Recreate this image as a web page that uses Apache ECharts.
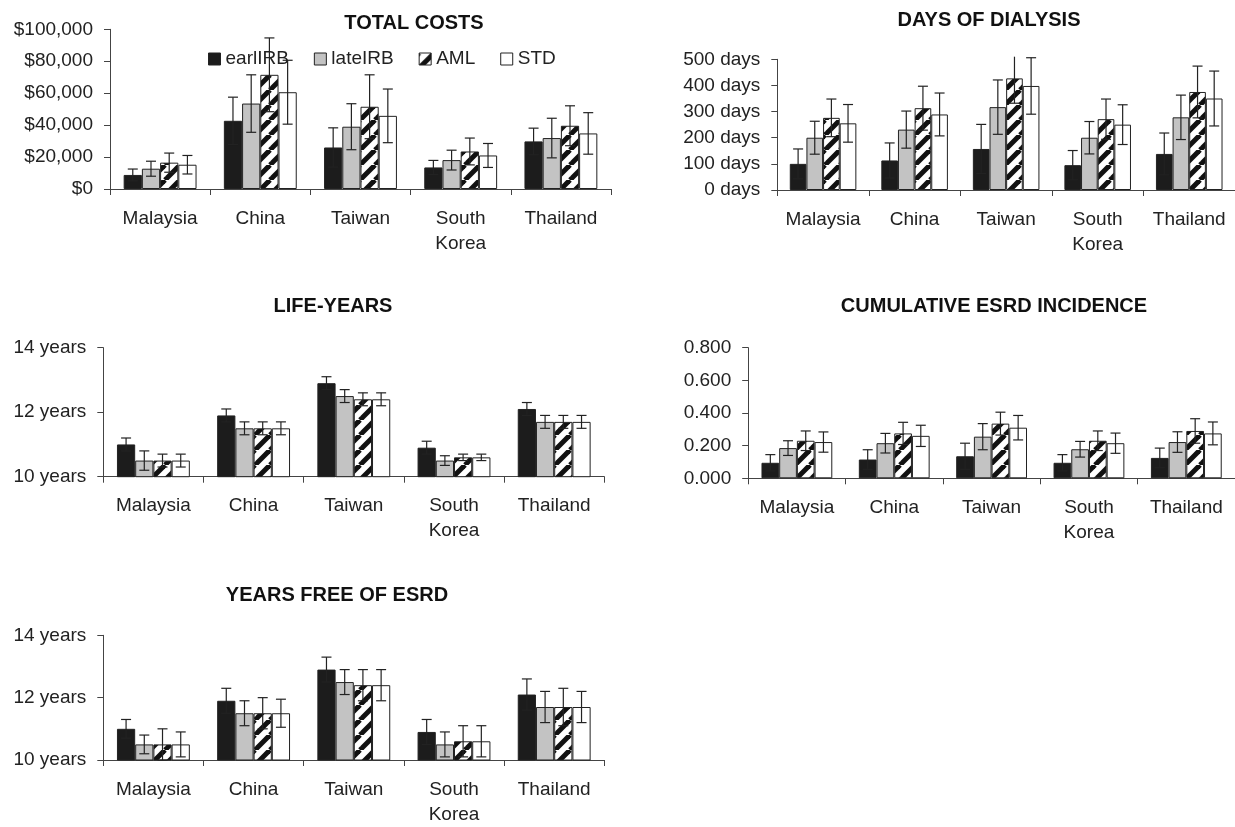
<!DOCTYPE html>
<html><head><meta charset="utf-8">
<script src="https://cdn.jsdelivr.net/npm/echarts@6/dist/echarts.min.js"></script>
<style>html,body{margin:0;padding:0;background:#fff}#c{width:1235px;height:827px}</style>
</head><body><div id="c"></div>
<script>
// ---------- DATA ----------
const categories = ['Malaysia', 'China', 'Taiwan', 'South\nKorea', 'Thailand'];
const seriesNames = ['earlIRB', 'lateIRB', 'AML', 'STD'];

// Total costs ($)
const costEarl = [8800, 42700, 26000, 13500, 29800];
const costEarlErr = [3700, 14800, 12300, 4400, 8300];
const costLate = [12700, 53500, 39000, 18100, 31900];
const costLateErr = [4700, 18000, 14400, 6200, 12400];
const costAml = [16500, 71500, 51500, 23500, 39600];
const costAmlErr = [6000, 23100, 20000, 8400, 12500];
const costStd = [15200, 60600, 45800, 21000, 34800];
const costStdErr = [5800, 20000, 16800, 7500, 13000];
const costTicks = [0, 20000, 40000, 60000, 80000, 100000];

// Days of dialysis
const daysEarl = [100, 113, 157, 95, 138];
const daysEarlErr = [57, 67, 94, 56, 80];
const daysLate = [200, 231, 317, 200, 278];
const daysLateErr = [63, 71, 104, 62, 85];
const daysAml = [276, 313, 427, 271, 375];
const daysAmlErr = [72, 84, 95, 77, 99];
const daysStd = [255, 289, 398, 250, 350];
const daysStdErr = [72, 82, 108, 76, 105];
const daysTicks = [0, 100, 200, 300, 400, 500];

// Life-years
const lifeEarl = [11.0, 11.9, 12.9, 10.9, 12.1];
const lifeEarlErr = [0.2, 0.2, 0.2, 0.2, 0.2];
const lifeLate = [10.5, 11.5, 12.5, 10.5, 11.7];
const lifeLateErr = [0.3, 0.2, 0.2, 0.15, 0.2];
const lifeAml = [10.5, 11.5, 12.4, 10.6, 11.7];
const lifeAmlErr = [0.2, 0.2, 0.2, 0.1, 0.2];
const lifeStd = [10.5, 11.5, 12.4, 10.6, 11.7];
const lifeStdErr = [0.2, 0.2, 0.2, 0.1, 0.2];
const yearTicks = [10, 12, 14];

// Cumulative ESRD incidence
const esrdEarl = [0.095, 0.115, 0.135, 0.095, 0.125];
const esrdEarlErr = [0.05, 0.06, 0.08, 0.05, 0.06];
const esrdLate = [0.185, 0.215, 0.255, 0.178, 0.222];
const esrdLateErr = [0.045, 0.06, 0.08, 0.048, 0.063];
const esrdAml = [0.23, 0.275, 0.335, 0.23, 0.29];
const esrdAmlErr = [0.06, 0.068, 0.07, 0.06, 0.075];
const esrdStd = [0.222, 0.26, 0.31, 0.215, 0.275];
const esrdStdErr = [0.062, 0.065, 0.075, 0.062, 0.07];
const esrdTicks = [0, 0.2, 0.4, 0.6, 0.8];

// Years free of ESRD
const freeEarl = [11.0, 11.9, 12.9, 10.9, 12.1];
const freeEarlErr = [0.3, 0.4, 0.4, 0.4, 0.5];
const freeLate = [10.5, 11.5, 12.5, 10.5, 11.7];
const freeLateErr = [0.3, 0.4, 0.4, 0.4, 0.5];
const freeAml = [10.5, 11.5, 12.4, 10.6, 11.7];
const freeAmlErr = [0.5, 0.5, 0.5, 0.5, 0.6];
const freeStd = [10.5, 11.5, 12.4, 10.6, 11.7];
const freeStdErr = [0.4, 0.45, 0.5, 0.5, 0.5];

// ---------- STYLE / LAYOUT ----------
const FONT = '"Liberation Sans", Arial, sans-serif';
const GAP = 1.5 / 5.5; // Excel gap width 150%
const INK = '#222';

function hatchCanvas() {
  const s = 15, cv = document.createElement('canvas');
  cv.width = s; cv.height = s;
  const g = cv.getContext('2d');
  g.fillStyle = '#fff'; g.fillRect(0, 0, s, s);
  g.strokeStyle = '#111'; g.lineWidth = 5;
  for (const o of [-s, 0, s]) { g.beginPath(); g.moveTo(o, s); g.lineTo(o + s, 0); g.stroke(); }
  return cv;
}
const fills = ['#1c1c1c', '#c3c3c3', { image: hatchCanvas(), repeat: 'repeat' }, '#ffffff'];

function commas(v) { return String(Math.round(v)).replace(/\B(?=(\d{3})+(?!\d))/g, ','); }

const panels = [
  { title: 'TOTAL COSTS', tx: 414, ty: 23, left: 110, top: 29.3, width: 501, height: 159.7,
    ticks: costTicks, fmt: v => '$' + commas(v), clipMax: null,
    vals: [costEarl, costLate, costAml, costStd], errs: [costEarlErr, costLateErr, costAmlErr, costStdErr] },
  { title: 'DAYS OF DIALYSIS', tx: 989, ty: 20, left: 777.3, top: 59.3, width: 463, height: 130.7,
    ticks: daysTicks, fmt: v => v + ' days', clipMax: 510,
    vals: [daysEarl, daysLate, daysAml, daysStd], errs: [daysEarlErr, daysLateErr, daysAmlErr, daysStdErr] },
  { title: 'LIFE-YEARS', tx: 333, ty: 306.7, left: 103.3, top: 347.7, width: 501, height: 129,
    ticks: yearTicks, fmt: v => v + ' years', clipMax: null,
    vals: [lifeEarl, lifeLate, lifeAml, lifeStd], errs: [lifeEarlErr, lifeLateErr, lifeAmlErr, lifeStdErr] },
  { title: 'CUMULATIVE ESRD INCIDENCE', tx: 994, ty: 306.7, left: 748.2, top: 347.7, width: 495.6, height: 130.6,
    ticks: esrdTicks, fmt: v => v.toFixed(3), clipMax: null,
    vals: [esrdEarl, esrdLate, esrdAml, esrdStd], errs: [esrdEarlErr, esrdLateErr, esrdAmlErr, esrdStdErr] },
  { title: 'YEARS FREE OF ESRD', tx: 337, ty: 595, left: 103.3, top: 635.3, width: 501, height: 130.4,
    ticks: yearTicks, fmt: v => v + ' years', clipMax: null,
    vals: [freeEarl, freeLate, freeAml, freeStd], errs: [freeEarlErr, freeLateErr, freeAmlErr, freeStdErr] }
];

function errRender(clipMax) {
  return function (params, api) {
    const cat = api.value(0), s = api.value(1), v = api.value(2), e = api.value(3);
    const band = api.size([1, 0])[0];
    const bw = band * (1 - GAP) / 4;
    const x = api.coord([cat, v])[0] + (s - 1.5) * bw;
    let hi = v + e, capTop = true;
    if (clipMax != null && hi > clipMax) { hi = clipMax; capTop = false; }
    const yHi = api.coord([cat, hi])[1], yLo = api.coord([cat, v - e])[1];
    const st = { stroke: INK, lineWidth: 1.2 };
    const ch = [{ type: 'line', shape: { x1: x, y1: yHi, x2: x, y2: yLo }, style: st },
                { type: 'line', shape: { x1: x - 5, y1: yLo, x2: x + 5, y2: yLo }, style: st }];
    if (capTop) ch.push({ type: 'line', shape: { x1: x - 5, y1: yHi, x2: x + 5, y2: yHi }, style: st });
    return { type: 'group', children: ch };
  };
}

const grid = [], xAxis = [], yAxis = [], series = [], graphic = [];
panels.forEach((p, i) => {
  grid.push({ left: p.left, top: p.top, width: p.width, height: p.height, containLabel: false });
  xAxis.push({
    type: 'category', gridIndex: i, data: categories, boundaryGap: true,
    axisLine: { lineStyle: { color: '#444', width: 1 } },
    axisTick: { show: true, length: 6, interval: 0, lineStyle: { color: '#444' } },
    axisLabel: { interval: 0, color: INK, fontSize: 19, lineHeight: 25, margin: 17, fontFamily: FONT }
  });
  const tk = p.ticks;
  yAxis.push({
    type: 'value', gridIndex: i, min: tk[0], max: tk[tk.length - 1], interval: tk[1] - tk[0],
    axisLine: { show: true, lineStyle: { color: '#444', width: 1 } },
    axisTick: { show: true, length: 6, lineStyle: { color: '#444' } },
    splitLine: { show: false },
    axisLabel: { color: INK, fontSize: 19, margin: 17, fontFamily: FONT, formatter: p.fmt }
  });
  seriesNames.forEach((name, s) => {
    series.push({
      type: 'bar', name: name, xAxisIndex: i, yAxisIndex: i, data: p.vals[s],
      barGap: '0%', barCategoryGap: (GAP * 100) + '%',
      itemStyle: { color: fills[s], borderColor: INK, borderWidth: 1 },
      emphasis: { disabled: true }, animation: false
    });
  });
  const ed = [];
  for (let s = 0; s < 4; s++) for (let c = 0; c < categories.length; c++) ed.push([c, s, p.vals[s][c], p.errs[s][c]]);
  series.push({
    type: 'custom', xAxisIndex: i, yAxisIndex: i, data: ed, encode: { x: 0, y: 2 },
    renderItem: errRender(p.clipMax), clip: false, z: 5, silent: true, animation: false
  });
  graphic.push({
    type: 'text', x: p.tx, y: p.ty, silent: true,
    style: { text: p.title, fill: '#111', font: 'bold 20px ' + FONT, textAlign: 'center', textVerticalAlign: 'middle' }
  });
});

const chart = echarts.init(document.getElementById('c'), null, { renderer: 'canvas' });
chart.setOption({
  backgroundColor: '#fff',
  animation: false,
  textStyle: { fontFamily: FONT },
  legend: {
    data: seriesNames, left: 208, top: 49.5, padding: 0, itemGap: 25, itemWidth: 12, itemHeight: 12,
    itemTextGap: 6, icon: 'rect', selectedMode: false,
    itemStyle: { borderColor: INK, borderWidth: 1 },
    textStyle: { color: INK, fontSize: 19, fontFamily: FONT }
  },
  grid: grid, xAxis: xAxis, yAxis: yAxis, series: series, graphic: graphic
});
</script></body></html>
